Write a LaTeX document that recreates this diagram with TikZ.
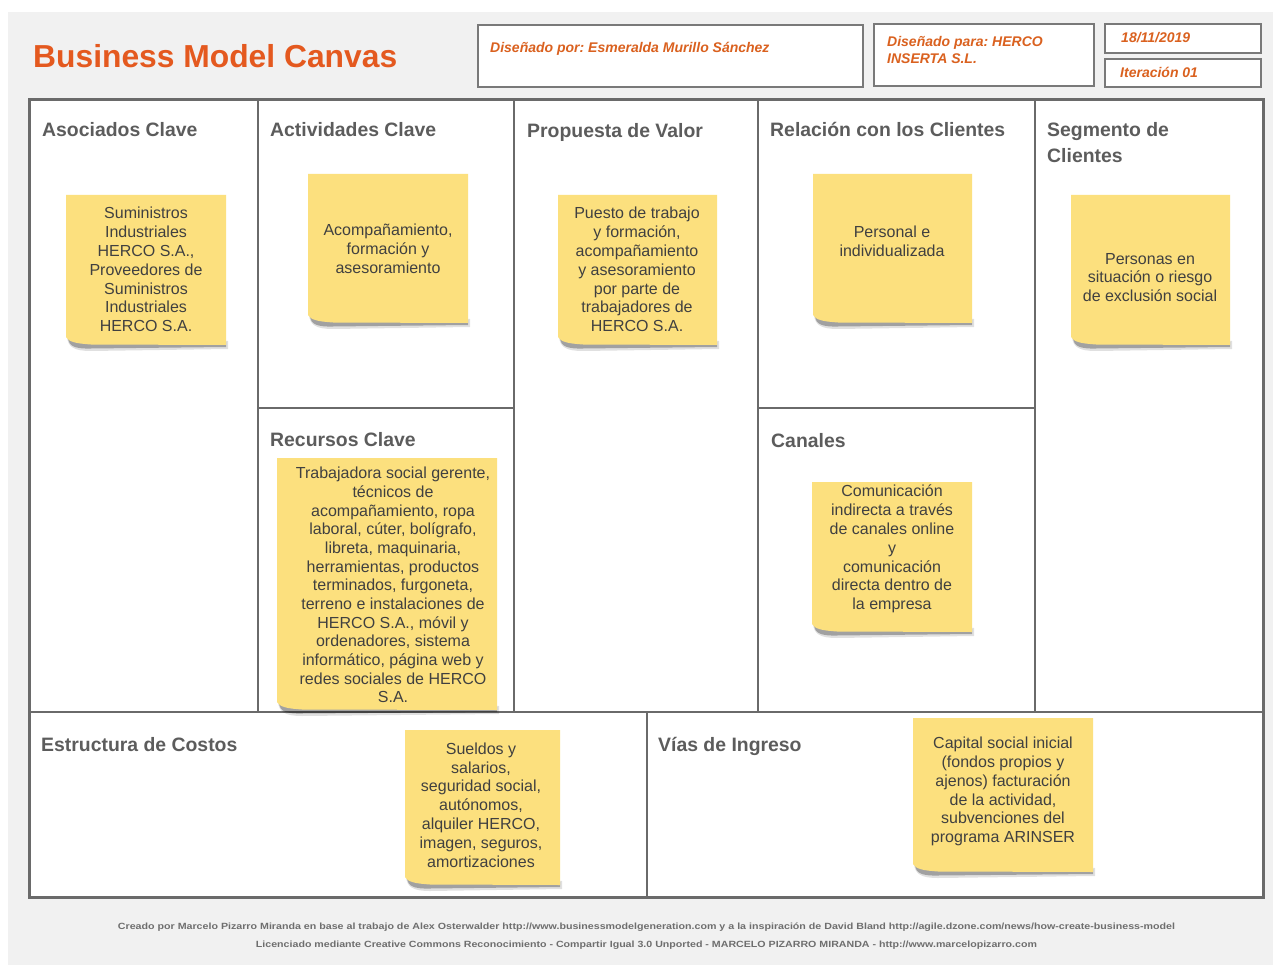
\documentclass[tikz,border=0pt]{standalone}
\usepackage{fontspec}
\setmainfont{Liberation Sans}
\usepackage{graphicx}
\usetikzlibrary{calc}
\frenchspacing
\definecolor{bgc}{HTML}{F1F1F1}
\definecolor{orangec}{HTML}{E4591F}
\definecolor{hdrc}{HTML}{DA611F}
\definecolor{linec}{HTML}{6A6A6A}
\definecolor{titc}{HTML}{5C5C5C}
\definecolor{notec}{HTML}{FCE07E}
\definecolor{notetx}{HTML}{404040}
\definecolor{footc}{HTML}{6E6E6E}
\tikzset{
  frame/.style={draw=linec, line width=3pt},
  gridline/.style={draw=linec, line width=2pt},
  hbox/.style={draw=linec!90, line width=1.3pt, fill=white},
  sectitle/.style={anchor=base west, inner sep=0pt, text=titc, font=\fontsize{19.4}{26}\selectfont\bfseries},
  notetext/.style={align=center, inner sep=0pt, text=notetx, font=\fontsize{16}{18.8}\selectfont},
  hdrtext/.style={anchor=base west, inner sep=0pt, text=hdrc, font=\fontsize{14}{17}\selectfont\bfseries\itshape},
  foottext/.style={inner sep=0pt, text=footc, font=\fontsize{9}{11}\selectfont\bfseries},
  shadowA/.style={fill=black, opacity=0.12},
  shadowB/.style={fill=black, opacity=0.28},
  notefill/.style={fill=notec},
}
\newcommand{\stickynote}[4]{%
  \fill[shadowA] ({#1+1},{#4-8}) .. controls ({#1+2},{#4+2}) and ({#1+8},{#4+6}) .. ({#1+25},{#4+6}) -- ({#3+2},{#4+4}) -- ({#3+2},{#4-4}) -- cycle;
  \fill[shadowB] ({#1+2},{#4-6}) .. controls ({#1+3},{#4+1}) and ({#1+9},{#4+4}) .. ({#1+25},{#4+3.5}) -- ({#3},{#4+2}) -- ({#3},{#4-3}) -- cycle;
  \fill[notefill] (#1,#2) -- (#3,#2) -- (#3,#4) -- ({#1+25},{#4-0.5}) .. controls ({#1+10},{#4-1.5}) and ({#1+3},{#4-3}) .. (#1,{#4-8}) -- cycle;
}
\begin{document}
\begin{tikzpicture}[x=1pt,y=-1pt]
\useasboundingbox (0,0) rectangle (1273,965);
\fill[bgc] (8,12) rectangle (1273,965);
% header
\node[orangec, anchor=base west, inner sep=0pt, font=\fontsize{31.8}{36}\selectfont\bfseries] (title) at (33,67.4) {Business Model Canvas};
\draw[hbox] (478,25) rectangle (863,87);
\draw[hbox] (874,24) rectangle (1094,86);
\draw[hbox] (1105,24) rectangle (1261,53);
\draw[hbox] (1105,59) rectangle (1261,87);
\node[hdrtext] (por) at (490,53) {Diseñado por: Esmeralda Murillo Sánchez};
\node[hdrtext, anchor=north west, align=left] (para) at (887,36.5) {Diseñado para: HERCO\\INSERTA S.L.};
\node[hdrtext] (fecha) at (1121,43) {18/11/2019};
\node[hdrtext] (iter) at (1120,78) {Iteración 01};
% canvas
\fill[white] (29,100) rectangle (1263,897);
\draw[gridline] (258,100) -- (258,712);
\draw[gridline] (514,100) -- (514,712);
\draw[gridline] (758,100) -- (758,712);
\draw[gridline] (1035,100) -- (1035,712);
\draw[gridline] (258,408) -- (514,408);
\draw[gridline] (758,408) -- (1035,408);
\draw[gridline] (29,712) -- (1263,712);
\draw[gridline] (647,712) -- (647,897);
\draw[frame] (29,100) rectangle (1263,897);
% section titles
\node[sectitle] (tAso) at (42,137) {Asociados Clave};
\node[sectitle] (tAct) at (270,137) {Actividades Clave};
\node[sectitle] (tPro) at (527,138) {Propuesta de Valor};
\node[sectitle] (tRel) at (770,137) {Relación con los Clientes};
\node[sectitle, anchor=north west, align=left] (tSeg) at (1047,122.5) {Segmento de\\Clientes};
\node[sectitle] (tRec) at (270,446) {Recursos Clave};
\node[sectitle] (tCan) at (771,447) {Canales};
\node[sectitle] (tCos) at (41,751) {Estructura de Costos};
\node[sectitle] (tIng) at (658,751) {Vías de Ingreso};
% sticky notes
\stickynote{66}{195}{226}{345}
\node[notetext] (nAso) at (146,269.5) {Suministros\\Industriales\\HERCO S.A.,\\Proveedores de\\Suministros\\Industriales\\HERCO S.A.};
\stickynote{308}{174}{468}{323}
\node[notetext] (nAct) at (388,249) {Acompañamiento,\\formación y\\asesoramiento};
\stickynote{558}{195}{717}{345}
\node[notetext] (nPro) at (637,269.5) {Puesto de trabajo\\y formación,\\acompañamiento\\y asesoramiento\\por parte de\\trabajadores de\\HERCO S.A.};
\stickynote{813}{174}{972}{323}
\node[notetext] (nRel) at (892,241.5) {Personal e\\individualizada};
\stickynote{1071}{195}{1230}{345}
\node[notetext] (nSeg) at (1150,277.5) {Personas en\\situación o riesgo\\de exclusión social};
\stickynote{277}{458}{497}{710}
\node[notetext, font=\fontsize{16}{18.67}\selectfont] (nRec) at (393,585) {Trabajadora social gerente,\\técnicos de\\acompañamiento, ropa\\laboral, cúter, bolígrafo,\\libreta, maquinaria,\\herramientas, productos\\terminados, furgoneta,\\terreno e instalaciones de\\HERCO S.A., móvil y\\ordenadores, sistema\\informático, página web y\\redes sociales de HERCO\\S.A.};
\stickynote{812}{482}{972}{632}
\node[notetext] (nCan) at (892,549) {Comunicación\\indirecta a través\\de canales online\\y\\comunicación\\directa dentro de\\la empresa};
\stickynote{405}{730}{560}{885}
\node[notetext] (nCos) at (481,805) {Sueldos y\\salarios,\\seguridad social,\\autónomos,\\alquiler HERCO,\\imagen, seguros,\\amortizaciones};
\stickynote{913}{718}{1093}{872}
\node[notetext] (nIng) at (1003,791.5) {Capital social inicial\\(fondos propios y\\ajenos) facturación\\de la actividad,\\subvenciones del\\programa ARINSER};
% footer
\node[foottext] (f1) at (646.5,927) {\resizebox{1057pt}{\height}{Creado por Marcelo Pizarro Miranda en base al trabajo de Alex Osterwalder http://www.businessmodelgeneration.com y a la inspiración de David Bland http://agile.dzone.com/news/how-create-business-model}};
\node[foottext] (f2) at (646.5,945) {\resizebox{781pt}{\height}{Licenciado mediante Creative Commons Reconocimiento - Compartir Igual 3.0 Unported - MARCELO PIZARRO MIRANDA - http://www.marcelopizarro.com}};
\end{tikzpicture}
\end{document}
